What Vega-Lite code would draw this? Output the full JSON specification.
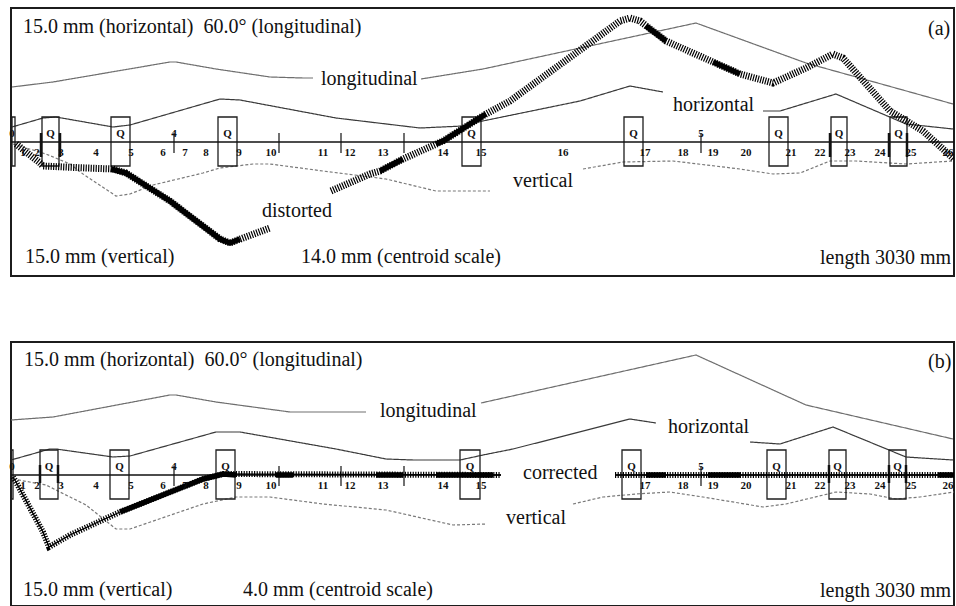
{
"$schema": "https://vega.github.io/schema/vega-lite/v6.json",
"padding": {"left": 8, "top": 7, "right": 5, "bottom": 2},
"spacing": 64,
"config": {"view": {"stroke": "#1c1c1c", "strokeWidth": 2}},
"datasets": {
"lines": [
{"panel":"a","seg":"la1","series":"longitudinal","x":1,"y":55},{"panel":"a","seg":"la1","series":"longitudinal","x":42,"y":60},{"panel":"a","seg":"la1","series":"longitudinal","x":159,"y":80},{"panel":"a","seg":"la1","series":"longitudinal","x":165,"y":80},{"panel":"a","seg":"la1","series":"longitudinal","x":205,"y":73},{"panel":"a","seg":"la1","series":"longitudinal","x":259,"y":65},{"panel":"a","seg":"la1","series":"longitudinal","x":292,"y":64},{"panel":"a","seg":"la1","series":"longitudinal","x":302,"y":64},
{"panel":"a","seg":"la2","series":"longitudinal","x":410,"y":63},{"panel":"a","seg":"la2","series":"longitudinal","x":472,"y":73},{"panel":"a","seg":"la2","series":"longitudinal","x":685,"y":119},{"panel":"a","seg":"la2","series":"longitudinal","x":795,"y":79},{"panel":"a","seg":"la2","series":"longitudinal","x":942,"y":38},
{"panel":"a","seg":"ha1","series":"horizontal","x":1,"y":15},{"panel":"a","seg":"ha1","series":"horizontal","x":32,"y":24},{"panel":"a","seg":"ha1","series":"horizontal","x":45,"y":25},{"panel":"a","seg":"ha1","series":"horizontal","x":102,"y":15},{"panel":"a","seg":"ha1","series":"horizontal","x":119,"y":17},{"panel":"a","seg":"ha1","series":"horizontal","x":209,"y":43},{"panel":"a","seg":"ha1","series":"horizontal","x":229,"y":42},{"panel":"a","seg":"ha1","series":"horizontal","x":325,"y":24},{"panel":"a","seg":"ha1","series":"horizontal","x":409,"y":14},{"panel":"a","seg":"ha1","series":"horizontal","x":452,"y":16},{"panel":"a","seg":"ha1","series":"horizontal","x":462,"y":19},{"panel":"a","seg":"ha1","series":"horizontal","x":569,"y":41},{"panel":"a","seg":"ha1","series":"horizontal","x":619,"y":56},{"panel":"a","seg":"ha1","series":"horizontal","x":652,"y":50},
{"panel":"a","seg":"ha2","series":"horizontal","x":752,"y":31},{"panel":"a","seg":"ha2","series":"horizontal","x":769,"y":31},{"panel":"a","seg":"ha2","series":"horizontal","x":825,"y":48},{"panel":"a","seg":"ha2","series":"horizontal","x":895,"y":18},{"panel":"a","seg":"ha2","series":"horizontal","x":942,"y":13},
{"panel":"a","seg":"va1","series":"vertical","x":2,"y":-2},{"panel":"a","seg":"va1","series":"vertical","x":35,"y":-12},{"panel":"a","seg":"va1","series":"vertical","x":59,"y":-22},{"panel":"a","seg":"va1","series":"vertical","x":72,"y":-32},{"panel":"a","seg":"va1","series":"vertical","x":105,"y":-54},{"panel":"a","seg":"va1","series":"vertical","x":119,"y":-52},{"panel":"a","seg":"va1","series":"vertical","x":142,"y":-43},{"panel":"a","seg":"va1","series":"vertical","x":192,"y":-31},{"panel":"a","seg":"va1","series":"vertical","x":209,"y":-26},{"panel":"a","seg":"va1","series":"vertical","x":242,"y":-22},{"panel":"a","seg":"va1","series":"vertical","x":259,"y":-22},{"panel":"a","seg":"va1","series":"vertical","x":312,"y":-29},{"panel":"a","seg":"va1","series":"vertical","x":375,"y":-37},{"panel":"a","seg":"va1","series":"vertical","x":425,"y":-49},{"panel":"a","seg":"va1","series":"vertical","x":442,"y":-49},{"panel":"a","seg":"va1","series":"vertical","x":479,"y":-49},
{"panel":"a","seg":"va2","series":"vertical","x":572,"y":-27},{"panel":"a","seg":"va2","series":"vertical","x":612,"y":-20},{"panel":"a","seg":"va2","series":"vertical","x":662,"y":-19},{"panel":"a","seg":"va2","series":"vertical","x":729,"y":-27},{"panel":"a","seg":"va2","series":"vertical","x":762,"y":-32},{"panel":"a","seg":"va2","series":"vertical","x":789,"y":-31},{"panel":"a","seg":"va2","series":"vertical","x":819,"y":-19},{"panel":"a","seg":"va2","series":"vertical","x":845,"y":-19},{"panel":"a","seg":"va2","series":"vertical","x":895,"y":-22},{"panel":"a","seg":"va2","series":"vertical","x":942,"y":-19},
{"panel":"b","seg":"lb1","series":"longitudinal","x":0,"y":55},{"panel":"b","seg":"lb1","series":"longitudinal","x":42,"y":58},{"panel":"b","seg":"lb1","series":"longitudinal","x":159,"y":80},{"panel":"b","seg":"lb1","series":"longitudinal","x":165,"y":80},{"panel":"b","seg":"lb1","series":"longitudinal","x":205,"y":73},{"panel":"b","seg":"lb1","series":"longitudinal","x":279,"y":63},{"panel":"b","seg":"lb1","series":"longitudinal","x":305,"y":63},{"panel":"b","seg":"lb1","series":"longitudinal","x":355,"y":63},
{"panel":"b","seg":"lb2","series":"longitudinal","x":470,"y":72},{"panel":"b","seg":"lb2","series":"longitudinal","x":685,"y":120},{"panel":"b","seg":"lb2","series":"longitudinal","x":795,"y":70},{"panel":"b","seg":"lb2","series":"longitudinal","x":942,"y":36},
{"panel":"b","seg":"hb1","series":"horizontal","x":0,"y":15},{"panel":"b","seg":"hb1","series":"horizontal","x":39,"y":26},{"panel":"b","seg":"hb1","series":"horizontal","x":45,"y":26},{"panel":"b","seg":"hb1","series":"horizontal","x":102,"y":18},{"panel":"b","seg":"hb1","series":"horizontal","x":119,"y":19},{"panel":"b","seg":"hb1","series":"horizontal","x":205,"y":43},{"panel":"b","seg":"hb1","series":"horizontal","x":229,"y":43},{"panel":"b","seg":"hb1","series":"horizontal","x":325,"y":26},{"panel":"b","seg":"hb1","series":"horizontal","x":375,"y":16},{"panel":"b","seg":"hb1","series":"horizontal","x":402,"y":15},{"panel":"b","seg":"hb1","series":"horizontal","x":449,"y":15},{"panel":"b","seg":"hb1","series":"horizontal","x":472,"y":20},{"panel":"b","seg":"hb1","series":"horizontal","x":502,"y":26},{"panel":"b","seg":"hb1","series":"horizontal","x":619,"y":56},{"panel":"b","seg":"hb1","series":"horizontal","x":645,"y":52},
{"panel":"b","seg":"hb2","series":"horizontal","x":739,"y":33},{"panel":"b","seg":"hb2","series":"horizontal","x":769,"y":31},{"panel":"b","seg":"hb2","series":"horizontal","x":822,"y":48},{"panel":"b","seg":"hb2","series":"horizontal","x":895,"y":18},{"panel":"b","seg":"hb2","series":"horizontal","x":942,"y":15},
{"panel":"b","seg":"vb1","series":"vertical","x":2,"y":-4},{"panel":"b","seg":"vb1","series":"vertical","x":35,"y":-10},{"panel":"b","seg":"vb1","series":"vertical","x":75,"y":-30},{"panel":"b","seg":"vb1","series":"vertical","x":105,"y":-54},{"panel":"b","seg":"vb1","series":"vertical","x":119,"y":-54},{"panel":"b","seg":"vb1","series":"vertical","x":192,"y":-29},{"panel":"b","seg":"vb1","series":"vertical","x":225,"y":-22},{"panel":"b","seg":"vb1","series":"vertical","x":259,"y":-22},{"panel":"b","seg":"vb1","series":"vertical","x":312,"y":-29},{"panel":"b","seg":"vb1","series":"vertical","x":375,"y":-35},{"panel":"b","seg":"vb1","series":"vertical","x":442,"y":-50},{"panel":"b","seg":"vb1","series":"vertical","x":475,"y":-49},
{"panel":"b","seg":"vb2","series":"vertical","x":562,"y":-29},{"panel":"b","seg":"vb2","series":"vertical","x":592,"y":-22},{"panel":"b","seg":"vb2","series":"vertical","x":625,"y":-19},{"panel":"b","seg":"vb2","series":"vertical","x":659,"y":-17},{"panel":"b","seg":"vb2","series":"vertical","x":692,"y":-22},{"panel":"b","seg":"vb2","series":"vertical","x":752,"y":-32},{"panel":"b","seg":"vb2","series":"vertical","x":775,"y":-29},{"panel":"b","seg":"vb2","series":"vertical","x":825,"y":-17},{"panel":"b","seg":"vb2","series":"vertical","x":859,"y":-19},{"panel":"b","seg":"vb2","series":"vertical","x":885,"y":-24},{"panel":"b","seg":"vb2","series":"vertical","x":909,"y":-22},{"panel":"b","seg":"vb2","series":"vertical","x":943,"y":-17}
],
"thick": [
{"panel":"a","seg":"da1","x":5,"y":-2},{"panel":"a","seg":"da1","x":29,"y":-21},{"panel":"a","seg":"da1","x":32,"y":-24},{"panel":"a","seg":"da1","x":75,"y":-26},{"panel":"a","seg":"da1","x":102,"y":-27},{"panel":"a","seg":"da1","x":115,"y":-31},{"panel":"a","seg":"da1","x":159,"y":-59},{"panel":"a","seg":"da1","x":209,"y":-97},{"panel":"a","seg":"da1","x":219,"y":-101},{"panel":"a","seg":"da1","x":232,"y":-96},{"panel":"a","seg":"da1","x":259,"y":-86},
{"panel":"a","seg":"da2","x":320,"y":-49},{"panel":"a","seg":"da2","x":359,"y":-32},{"panel":"a","seg":"da2","x":369,"y":-29},{"panel":"a","seg":"da2","x":392,"y":-17},{"panel":"a","seg":"da2","x":432,"y":1},{"panel":"a","seg":"da2","x":475,"y":28},{"panel":"a","seg":"da2","x":499,"y":41},{"panel":"a","seg":"da2","x":609,"y":121},{"panel":"a","seg":"da2","x":619,"y":124},{"panel":"a","seg":"da2","x":629,"y":121},{"panel":"a","seg":"da2","x":655,"y":101},{"panel":"a","seg":"da2","x":729,"y":68},{"panel":"a","seg":"da2","x":762,"y":59},{"panel":"a","seg":"da2","x":795,"y":74},{"panel":"a","seg":"da2","x":822,"y":88},{"panel":"a","seg":"da2","x":832,"y":84},{"panel":"a","seg":"da2","x":879,"y":31},{"panel":"a","seg":"da2","x":912,"y":11},{"panel":"a","seg":"da2","x":943,"y":-17},
{"panel":"b","seg":"cb1","x":2,"y":-2},{"panel":"b","seg":"cb1","x":5,"y":-7},{"panel":"b","seg":"cb1","x":32,"y":-57},{"panel":"b","seg":"cb1","x":38,"y":-72},{"panel":"b","seg":"cb1","x":59,"y":-60},{"panel":"b","seg":"cb1","x":109,"y":-37},{"panel":"b","seg":"cb1","x":192,"y":-4},{"panel":"b","seg":"cb1","x":212,"y":1},{"panel":"b","seg":"cb1","x":490,"y":0},
{"panel":"b","seg":"cb2","x":604,"y":0},{"panel":"b","seg":"cb2","x":943,"y":0}
],
"solid": [
{"panel":"a","seg":"s1","x":100,"y":-27},{"panel":"a","seg":"s1","x":115,"y":-31},{"panel":"a","seg":"s1","x":159,"y":-59},{"panel":"a","seg":"s1","x":209,"y":-97},{"panel":"a","seg":"s1","x":219,"y":-101},{"panel":"a","seg":"s1","x":229,"y":-97},
{"panel":"a","seg":"s2","x":369,"y":-29},{"panel":"a","seg":"s2","x":392,"y":-17},
{"panel":"a","seg":"s3","x":425,"y":-2},{"panel":"a","seg":"s3","x":432,"y":1},{"panel":"a","seg":"s3","x":475,"y":28},
{"panel":"a","seg":"s4","x":635,"y":116},{"panel":"a","seg":"s4","x":655,"y":101},
{"panel":"a","seg":"s5","x":702,"y":80},{"panel":"a","seg":"s5","x":729,"y":68},
{"panel":"b","seg":"c1","x":109,"y":-37},{"panel":"b","seg":"c1","x":192,"y":-4},{"panel":"b","seg":"c1","x":212,"y":1},{"panel":"b","seg":"c1","x":225,"y":0},
{"panel":"b","seg":"c2","x":265,"y":0},{"panel":"b","seg":"c2","x":282,"y":0},
{"panel":"b","seg":"c3","x":365,"y":0},{"panel":"b","seg":"c3","x":392,"y":0},
{"panel":"b","seg":"c4","x":425,"y":0},{"panel":"b","seg":"c4","x":482,"y":0},
{"panel":"b","seg":"c5","x":635,"y":0},{"panel":"b","seg":"c5","x":655,"y":0},
{"panel":"b","seg":"c6","x":697,"y":0},{"panel":"b","seg":"c6","x":729,"y":0},
{"panel":"b","seg":"c7","x":927,"y":0},{"panel":"b","seg":"c7","x":943,"y":0}
],
"axis": [
{"panel":"a","x1":0,"x2":943},
{"panel":"b","x1":0,"x2":490},{"panel":"b","x1":604,"x2":943}
],
"boxes": [
{"panel":"a","x1":1,"x2":4},{"panel":"a","x1":31,"x2":48},{"panel":"a","x1":100,"x2":119},{"panel":"a","x1":207,"x2":226},{"panel":"a","x1":451,"x2":470},{"panel":"a","x1":613,"x2":632},{"panel":"a","x1":758,"x2":777},{"panel":"a","x1":820,"x2":836},{"panel":"a","x1":879,"x2":896},
{"panel":"b","x1":0,"x2":2},{"panel":"b","x1":29,"x2":47},{"panel":"b","x1":99,"x2":118},{"panel":"b","x1":205,"x2":224},{"panel":"b","x1":449,"x2":469},{"panel":"b","x1":611,"x2":630},{"panel":"b","x1":756,"x2":775},{"panel":"b","x1":818,"x2":835},{"panel":"b","x1":878,"x2":895}
],
"ticks": [{"x":163},{"x":268},{"x":330},{"x":393},{"x":690}],
"marks": [
{"panel":"a","x":30},{"panel":"a","x":49},{"panel":"a","x":819},{"panel":"a","x":878},{"panel":"a","x":896},
{"panel":"b","x":29},{"panel":"b","x":47},{"panel":"b","x":818},{"panel":"b","x":878},{"panel":"b","x":895}
],
"nums": [
{"x":12,"t":"1"},{"x":26,"t":"2"},{"x":50,"t":"3"},{"x":85,"t":"4"},{"x":120,"t":"5"},{"x":152,"t":"6"},{"x":174,"t":"7"},{"x":195,"t":"8"},{"x":228,"t":"9"},{"x":260,"t":"10"},{"x":312,"t":"11"},{"x":339,"t":"12"},{"x":372,"t":"13"},{"x":432,"t":"14"},{"x":470,"t":"15"},{"x":552,"t":"16"},{"x":634,"t":"17"},{"x":672,"t":"18"},{"x":702,"t":"19"},{"x":735,"t":"20"},{"x":780,"t":"21"},{"x":809,"t":"22"},{"x":839,"t":"23"},{"x":869,"t":"24"},{"x":900,"t":"25"},{"x":937,"t":"26"}
],
"tops": [
{"panel":"a","x":1,"t":"0"},{"panel":"a","x":39.5,"t":"Q"},{"panel":"a","x":109.5,"t":"Q"},{"panel":"a","x":163,"t":"4"},{"panel":"a","x":216.5,"t":"Q"},{"panel":"a","x":460.5,"t":"Q"},{"panel":"a","x":622.5,"t":"Q"},{"panel":"a","x":690,"t":"5"},{"panel":"a","x":767.5,"t":"Q"},{"panel":"a","x":828,"t":"Q"},{"panel":"a","x":887.5,"t":"Q"},
{"panel":"b","x":1,"t":"0"},{"panel":"b","x":38,"t":"Q"},{"panel":"b","x":108.5,"t":"Q"},{"panel":"b","x":163,"t":"4"},{"panel":"b","x":214.5,"t":"Q"},{"panel":"b","x":459,"t":"Q"},{"panel":"b","x":620.5,"t":"Q"},{"panel":"b","x":690,"t":"5"},{"panel":"b","x":765.5,"t":"Q"},{"panel":"b","x":826.5,"t":"Q"},{"panel":"b","x":886.5,"t":"Q"}
],
"notes": [
{"panel":"a","x":12,"y":115,"t":"15.0 mm (horizontal)\u00a0 60.0° (longitudinal)"},{"panel":"a","x":917,"y":113,"t":"(a)"},{"panel":"a","x":310,"y":63,"t":"longitudinal"},{"panel":"a","x":662,"y":37,"t":"horizontal"},{"panel":"a","x":502,"y":-39,"t":"vertical"},{"panel":"a","x":251,"y":-69,"t":"distorted"},{"panel":"a","x":14,"y":-115,"t":"15.0 mm (vertical)"},{"panel":"a","x":290,"y":-115,"t":"14.0 mm (centroid scale)"},{"panel":"a","x":809,"y":-116,"t":"length 3030 mm"},
{"panel":"b","x":13,"y":115,"t":"15.0 mm (horizontal)\u00a0 60.0° (longitudinal)"},{"panel":"b","x":917,"y":113,"t":"(b)"},{"panel":"b","x":369,"y":64,"t":"longitudinal"},{"panel":"b","x":657,"y":48,"t":"horizontal"},{"panel":"b","x":512,"y":2,"t":"corrected"},{"panel":"b","x":495,"y":-43,"t":"vertical"},{"panel":"b","x":12,"y":-115,"t":"15.0 mm (vertical)"},{"panel":"b","x":232,"y":-115,"t":"4.0 mm (centroid scale)"},{"panel":"b","x":809,"y":-116,"t":"length 3030 mm"}
]
},
"vconcat": [
{
"width": 943, "height": 268,
"layer": [
{"data": {"name": "lines"}, "transform": [{"filter": "datum.panel == 'a'"}],
 "mark": {"type": "line", "strokeWidth": 1.2, "clip": true},
 "encoding": {
  "x": {"field": "x", "type": "quantitative", "scale": {"domain": [0, 943], "nice": false, "zero": false}, "axis": null},
  "y": {"field": "y", "type": "quantitative", "scale": {"domain": [-134, 134], "nice": false, "zero": false}, "axis": null},
  "detail": {"field": "seg"},
  "color": {"field": "series", "type": "nominal", "scale": {"domain": ["longitudinal", "horizontal", "vertical"], "range": ["#6e6e6e", "#3a3a3a", "#7a7a7a"]}, "legend": null},
  "strokeDash": {"field": "series", "type": "nominal", "scale": {"domain": ["longitudinal", "horizontal", "vertical"], "range": [[1, 0], [1, 0], [3, 2]]}, "legend": null}
 }},
{"data": {"name": "boxes"}, "transform": [{"filter": "datum.panel == 'a'"}],
 "mark": {"type": "rect", "filled": false, "stroke": "#1e1e1e", "strokeWidth": 1.3},
 "encoding": {
  "x": {"field": "x1", "type": "quantitative", "scale": {"domain": [0, 943], "nice": false, "zero": false}, "axis": null},
  "x2": {"field": "x2"},
  "y": {"datum": -24, "type": "quantitative", "scale": {"domain": [-134, 134], "nice": false, "zero": false}, "axis": null},
  "y2": {"datum": 25}
 }},
{"data": {"name": "axis"}, "transform": [{"filter": "datum.panel == 'a'"}],
 "mark": {"type": "rule", "color": "#111", "strokeWidth": 1.5},
 "encoding": {
  "x": {"field": "x1", "type": "quantitative", "scale": {"domain": [0, 943], "nice": false, "zero": false}, "axis": null},
  "x2": {"field": "x2"},
  "y": {"datum": 0, "type": "quantitative", "scale": {"domain": [-134, 134], "nice": false, "zero": false}, "axis": null}
 }},
{"data": {"name": "ticks"},
 "mark": {"type": "rule", "color": "#111", "strokeWidth": 1.2},
 "encoding": {
  "x": {"field": "x", "type": "quantitative", "scale": {"domain": [0, 943], "nice": false, "zero": false}, "axis": null},
  "y": {"datum": 9, "type": "quantitative", "scale": {"domain": [-134, 134], "nice": false, "zero": false}, "axis": null},
  "y2": {"datum": -11}
 }},
{"data": {"name": "marks"}, "transform": [{"filter": "datum.panel == 'a'"}],
 "mark": {"type": "rule", "color": "#111", "strokeWidth": 2.5},
 "encoding": {
  "x": {"field": "x", "type": "quantitative", "scale": {"domain": [0, 943], "nice": false, "zero": false}, "axis": null},
  "y": {"datum": 9, "type": "quantitative", "scale": {"domain": [-134, 134], "nice": false, "zero": false}, "axis": null},
  "y2": {"datum": -15}
 }},
{"data": {"name": "thick"}, "transform": [{"filter": "datum.panel == 'a'"}],
 "mark": {"type": "line", "color": "#000", "strokeWidth": 7, "strokeDash": [1.2, 1.3], "strokeCap": "butt", "clip": true},
 "encoding": {
  "x": {"field": "x", "type": "quantitative", "scale": {"domain": [0, 943], "nice": false, "zero": false}, "axis": null},
  "y": {"field": "y", "type": "quantitative", "scale": {"domain": [-134, 134], "nice": false, "zero": false}, "axis": null},
  "detail": {"field": "seg"}
 }},
{"data": {"name": "solid"}, "transform": [{"filter": "datum.panel == 'a'"}],
 "mark": {"type": "line", "color": "#000", "strokeWidth": 5.5, "strokeCap": "butt", "clip": true},
 "encoding": {
  "x": {"field": "x", "type": "quantitative", "scale": {"domain": [0, 943], "nice": false, "zero": false}, "axis": null},
  "y": {"field": "y", "type": "quantitative", "scale": {"domain": [-134, 134], "nice": false, "zero": false}, "axis": null},
  "detail": {"field": "seg"}
 }},
{"data": {"name": "nums"},
 "mark": {"type": "text", "font": "Liberation Serif", "fontWeight": "bold", "fontSize": 11, "align": "center", "baseline": "middle", "color": "#111"},
 "encoding": {
  "x": {"field": "x", "type": "quantitative", "scale": {"domain": [0, 943], "nice": false, "zero": false}, "axis": null},
  "y": {"datum": -11, "type": "quantitative", "scale": {"domain": [-134, 134], "nice": false, "zero": false}, "axis": null},
  "text": {"field": "t"}
 }},
{"data": {"name": "tops"}, "transform": [{"filter": "datum.panel == 'a'"}],
 "mark": {"type": "text", "font": "Liberation Serif", "fontWeight": "bold", "fontSize": 11, "align": "center", "baseline": "middle", "color": "#111"},
 "encoding": {
  "x": {"field": "x", "type": "quantitative", "scale": {"domain": [0, 943], "nice": false, "zero": false}, "axis": null},
  "y": {"datum": 8, "type": "quantitative", "scale": {"domain": [-134, 134], "nice": false, "zero": false}, "axis": null},
  "text": {"field": "t"}
 }},
{"data": {"name": "notes"}, "transform": [{"filter": "datum.panel == 'a'"}],
 "mark": {"type": "text", "font": "Liberation Serif", "fontSize": 20, "align": "left", "baseline": "middle", "color": "#111"},
 "encoding": {
  "x": {"field": "x", "type": "quantitative", "scale": {"domain": [0, 943], "nice": false, "zero": false}, "axis": null},
  "y": {"field": "y", "type": "quantitative", "scale": {"domain": [-134, 134], "nice": false, "zero": false}, "axis": null},
  "text": {"field": "t"}
 }}
]
},
{
"width": 943, "height": 264,
"layer": [
{"data": {"name": "lines"}, "transform": [{"filter": "datum.panel == 'b'"}],
 "mark": {"type": "line", "strokeWidth": 1.2, "clip": true},
 "encoding": {
  "x": {"field": "x", "type": "quantitative", "scale": {"domain": [0, 943], "nice": false, "zero": false}, "axis": null},
  "y": {"field": "y", "type": "quantitative", "scale": {"domain": [-131, 133], "nice": false, "zero": false}, "axis": null},
  "detail": {"field": "seg"},
  "color": {"field": "series", "type": "nominal", "scale": {"domain": ["longitudinal", "horizontal", "vertical"], "range": ["#6e6e6e", "#3a3a3a", "#7a7a7a"]}, "legend": null},
  "strokeDash": {"field": "series", "type": "nominal", "scale": {"domain": ["longitudinal", "horizontal", "vertical"], "range": [[1, 0], [1, 0], [3, 2]]}, "legend": null}
 }},
{"data": {"name": "boxes"}, "transform": [{"filter": "datum.panel == 'b'"}],
 "mark": {"type": "rect", "filled": false, "stroke": "#1e1e1e", "strokeWidth": 1.3},
 "encoding": {
  "x": {"field": "x1", "type": "quantitative", "scale": {"domain": [0, 943], "nice": false, "zero": false}, "axis": null},
  "x2": {"field": "x2"},
  "y": {"datum": -24, "type": "quantitative", "scale": {"domain": [-131, 133], "nice": false, "zero": false}, "axis": null},
  "y2": {"datum": 25}
 }},
{"data": {"name": "axis"}, "transform": [{"filter": "datum.panel == 'b'"}],
 "mark": {"type": "rule", "color": "#111", "strokeWidth": 1.5},
 "encoding": {
  "x": {"field": "x1", "type": "quantitative", "scale": {"domain": [0, 943], "nice": false, "zero": false}, "axis": null},
  "x2": {"field": "x2"},
  "y": {"datum": 0, "type": "quantitative", "scale": {"domain": [-131, 133], "nice": false, "zero": false}, "axis": null}
 }},
{"data": {"name": "ticks"},
 "mark": {"type": "rule", "color": "#111", "strokeWidth": 1.2},
 "encoding": {
  "x": {"field": "x", "type": "quantitative", "scale": {"domain": [0, 943], "nice": false, "zero": false}, "axis": null},
  "y": {"datum": 9, "type": "quantitative", "scale": {"domain": [-131, 133], "nice": false, "zero": false}, "axis": null},
  "y2": {"datum": -11}
 }},
{"data": {"name": "marks"}, "transform": [{"filter": "datum.panel == 'b'"}],
 "mark": {"type": "rule", "color": "#111", "strokeWidth": 2.5},
 "encoding": {
  "x": {"field": "x", "type": "quantitative", "scale": {"domain": [0, 943], "nice": false, "zero": false}, "axis": null},
  "y": {"datum": 10, "type": "quantitative", "scale": {"domain": [-131, 133], "nice": false, "zero": false}, "axis": null},
  "y2": {"datum": -8}
 }},
{"data": {"name": "thick"}, "transform": [{"filter": "datum.panel == 'b'"}],
 "mark": {"type": "line", "color": "#000", "strokeWidth": 1.3, "clip": true},
 "encoding": {
  "x": {"field": "x", "type": "quantitative", "scale": {"domain": [0, 943], "nice": false, "zero": false}, "axis": null},
  "y": {"field": "y", "type": "quantitative", "scale": {"domain": [-131, 133], "nice": false, "zero": false}, "axis": null},
  "detail": {"field": "seg"}
 }},
{"data": {"name": "thick"}, "transform": [{"filter": "datum.panel == 'b'"}],
 "mark": {"type": "line", "color": "#000", "strokeWidth": 6, "strokeDash": [1.2, 1.4], "strokeCap": "butt", "clip": true},
 "encoding": {
  "x": {"field": "x", "type": "quantitative", "scale": {"domain": [0, 943], "nice": false, "zero": false}, "axis": null},
  "y": {"field": "y", "type": "quantitative", "scale": {"domain": [-131, 133], "nice": false, "zero": false}, "axis": null},
  "detail": {"field": "seg"}
 }},
{"data": {"name": "solid"}, "transform": [{"filter": "datum.panel == 'b'"}],
 "mark": {"type": "line", "color": "#000", "strokeWidth": 5.5, "strokeCap": "butt", "clip": true},
 "encoding": {
  "x": {"field": "x", "type": "quantitative", "scale": {"domain": [0, 943], "nice": false, "zero": false}, "axis": null},
  "y": {"field": "y", "type": "quantitative", "scale": {"domain": [-131, 133], "nice": false, "zero": false}, "axis": null},
  "detail": {"field": "seg"}
 }},
{"data": {"name": "nums"}, "transform": [{"filter": "datum.t != '16'"}],
 "mark": {"type": "text", "font": "Liberation Serif", "fontWeight": "bold", "fontSize": 11, "align": "center", "baseline": "middle", "color": "#111"},
 "encoding": {
  "x": {"field": "x", "type": "quantitative", "scale": {"domain": [0, 943], "nice": false, "zero": false}, "axis": null},
  "y": {"datum": -11, "type": "quantitative", "scale": {"domain": [-131, 133], "nice": false, "zero": false}, "axis": null},
  "text": {"field": "t"}
 }},
{"data": {"name": "tops"}, "transform": [{"filter": "datum.panel == 'b'"}],
 "mark": {"type": "text", "font": "Liberation Serif", "fontWeight": "bold", "fontSize": 11, "align": "center", "baseline": "middle", "color": "#111"},
 "encoding": {
  "x": {"field": "x", "type": "quantitative", "scale": {"domain": [0, 943], "nice": false, "zero": false}, "axis": null},
  "y": {"datum": 8, "type": "quantitative", "scale": {"domain": [-131, 133], "nice": false, "zero": false}, "axis": null},
  "text": {"field": "t"}
 }},
{"data": {"name": "notes"}, "transform": [{"filter": "datum.panel == 'b'"}],
 "mark": {"type": "text", "font": "Liberation Serif", "fontSize": 20, "align": "left", "baseline": "middle", "color": "#111"},
 "encoding": {
  "x": {"field": "x", "type": "quantitative", "scale": {"domain": [0, 943], "nice": false, "zero": false}, "axis": null},
  "y": {"field": "y", "type": "quantitative", "scale": {"domain": [-131, 133], "nice": false, "zero": false}, "axis": null},
  "text": {"field": "t"}
 }}
]
}
]
}
